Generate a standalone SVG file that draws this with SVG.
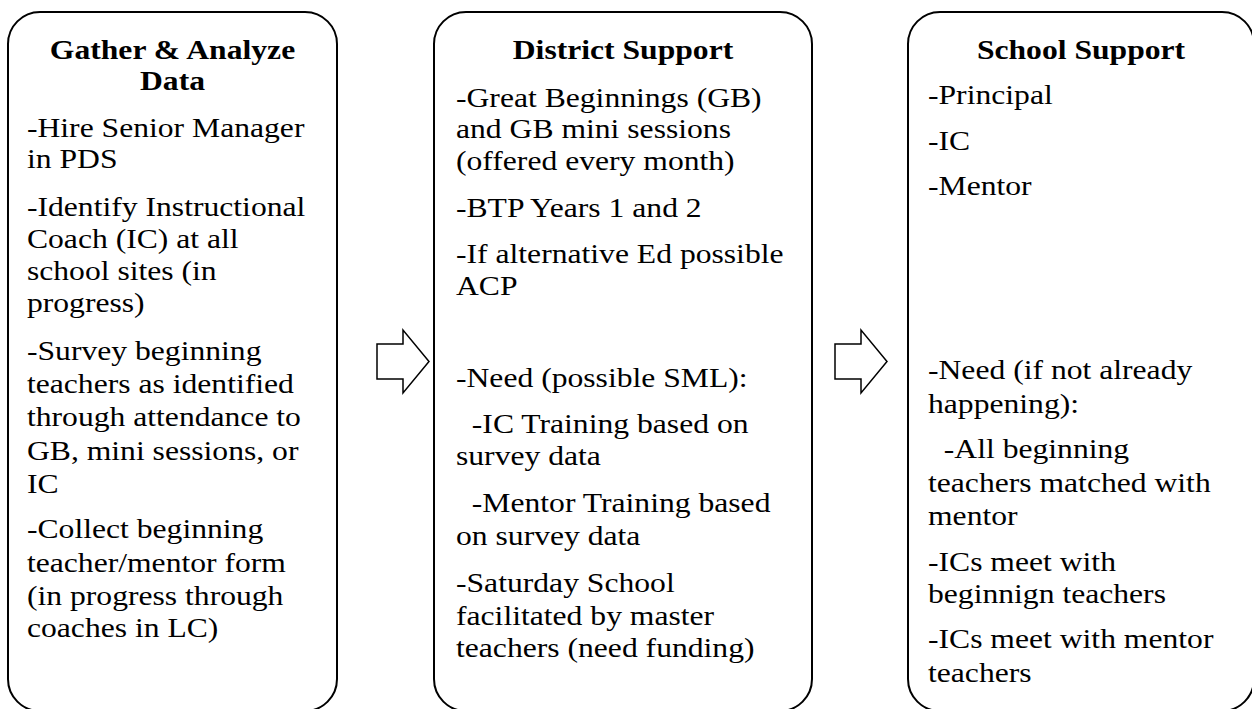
<svg xmlns="http://www.w3.org/2000/svg" width="1252" height="709" viewBox="0 0 1252 709">
<style>
.box{fill:#fff;stroke:#000;stroke-width:2}
.arr{fill:#fff;stroke:#000;stroke-width:1.5;stroke-linejoin:miter}
text{font-family:"Liberation Serif","Times New Roman",serif;font-size:28px;fill:#000}
.t{font-weight:bold;text-anchor:middle}
</style>
<rect width="1252" height="709" fill="#fff"/>
<g id="connectors">
<polygon class="arr" points="377,344 403,344 403,330 429,361.5 403,393 403,379 377,379"/>
<polygon class="arr" points="835,344 861,344 861,330 887,361.5 861,393 861,379 835,379"/>
</g>
<g id="node-gather">
<rect class="box" x="8" y="12" width="329" height="699" rx="32" ry="32"/>
<g transform="translate(172.5,0) scale(1.13,1)">
<text class="t" x="0" y="59">Gather &amp; Analyze</text>
<text class="t" x="0" y="90">Data</text>
<text x="-128.8" y="137">-Hire Senior Manager</text>
<text x="-128.8" y="168">in PDS</text>
<text x="-128.8" y="216">-Identify Instructional</text>
<text x="-128.8" y="248">Coach (IC) at all</text>
<text x="-128.8" y="280">school sites (in</text>
<text x="-128.8" y="312">progress)</text>
<text x="-128.8" y="360">-Survey beginning</text>
<text x="-128.8" y="393">teachers as identified</text>
<text x="-128.8" y="426">through attendance to</text>
<text x="-128.8" y="460">GB, mini sessions, or</text>
<text x="-128.8" y="493">IC</text>
<text x="-128.8" y="538">-Collect beginning</text>
<text x="-128.8" y="572">teacher/mentor form</text>
<text x="-128.8" y="605">(in progress through</text>
<text x="-128.8" y="637">coaches in LC)</text>
</g>
</g>
<g id="node-district">
<rect class="box" x="434" y="12" width="378" height="699" rx="32" ry="32"/>
<g transform="translate(623,0) scale(1.13,1)">
<text class="t" x="0" y="59">District Support</text>
<text x="-147.8" y="107">-Great Beginnings (GB)</text>
<text x="-147.8" y="138">and GB mini sessions</text>
<text x="-147.8" y="170">(offered every month)</text>
<text x="-147.8" y="217">-BTP Years 1 and 2</text>
<text x="-147.8" y="263">-If alternative Ed possible</text>
<text x="-147.8" y="295">ACP</text>
<text x="-147.8" y="387">-Need (possible SML):</text>
<text x="-133.8" y="433">-IC Training based on</text>
<text x="-147.8" y="465">survey data</text>
<text x="-133.8" y="512">-Mentor Training based</text>
<text x="-147.8" y="545">on survey data</text>
<text x="-147.8" y="592">-Saturday School</text>
<text x="-147.8" y="625">facilitated by master</text>
<text x="-147.8" y="657">teachers (need funding)</text>
</g>
</g>
<g id="node-school">
<rect class="box" x="908" y="12" width="346" height="699" rx="32" ry="32"/>
<g transform="translate(1081,0) scale(1.13,1)">
<text class="t" x="0" y="59">School Support</text>
<text x="-135.4" y="104">-Principal</text>
<text x="-135.4" y="150">-IC</text>
<text x="-135.4" y="195">-Mentor</text>
<text x="-135.4" y="379">-Need (if not already</text>
<text x="-135.4" y="413">happening):</text>
<text x="-121.4" y="458">-All beginning</text>
<text x="-135.4" y="492">teachers matched with</text>
<text x="-135.4" y="525">mentor</text>
<text x="-135.4" y="571">-ICs meet with</text>
<text x="-135.4" y="603">beginnign teachers</text>
<text x="-135.4" y="648">-ICs meet with mentor</text>
<text x="-135.4" y="682">teachers</text>
</g>
</g>
</svg>
